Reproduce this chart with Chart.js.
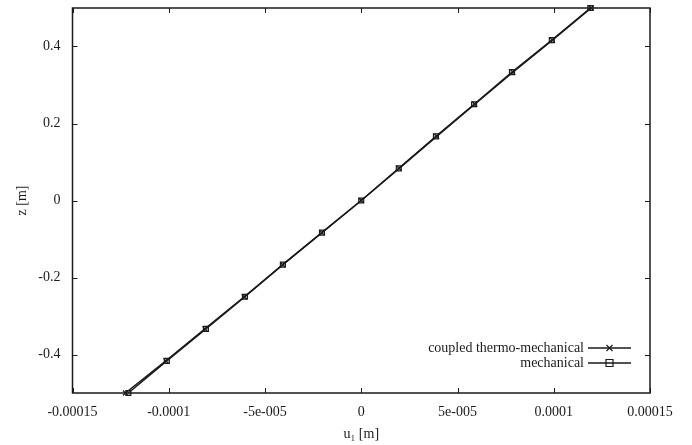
<!DOCTYPE html>
<html>
<head>
<meta charset="utf-8">
<script src="https://cdn.jsdelivr.net/npm/chart.js@4/dist/chart.umd.min.js"></script>
<style>
    html, body { margin: 0; padding: 0; background: #ffffff; }
    #wrap { width: 692px; height: 445px; }
</style>
</head>
<body>
<div id="wrap"><canvas id="profileChart" width="692" height="445"></canvas></div>
<script>
// z positions through the thickness [m]
const zValues = [-0.5, -0.41667, -0.33333, -0.25, -0.16667, -0.08333, 0, 0.08333, 0.16667, 0.25, 0.33333, 0.41667, 0.5];
// displacement u1 [m]
const coupledU = [-1.225e-4, -1.015e-4, -8.12e-5, -6.08e-5, -4.08e-5, -2.05e-5, 0, 1.97e-5, 3.92e-5, 5.9e-5, 7.88e-5, 9.93e-5, 1.195e-4];
const mechanicalU = [-1.21e-4, -1.01e-4, -8.07e-5, -6.04e-5, -4.07e-5, -2.04e-5, 0, 1.95e-5, 3.88e-5, 5.86e-5, 7.83e-5, 9.9e-5, 1.19e-4];

const xTicks = [-1.5e-4, -1e-4, -5e-5, 0, 5e-5, 1e-4, 1.5e-4];
const xTickLabels = ['-0.00015', '-0.0001', '-5e-005', '0', '5e-005', '0.0001', '0.00015'];
const yTicks = [-0.4, -0.2, 0, 0.2, 0.4];
const yTickLabels = ['-0.4', '-0.2', '0', '0.2', '0.4'];

const seriesNames = ['coupled thermo-mechanical', 'mechanical'];

const FONT = '"Liberation Serif", "DejaVu Serif", serif';
const INK = '#1a1a1a';

function toPoints(xs) {
    return xs.map((x, i) => ({ x: x, y: zValues[i] }));
}

// box, inward ticks on all four sides and the legend (gnuplot look)
const framePlugin = {
    id: 'frame',
    afterDraw(chart) {
        const ctx = chart.ctx;
        const a = chart.chartArea;
        const xs = chart.scales.x;
        const ys = chart.scales.y;
        const tick = 5;

        ctx.save();
        ctx.strokeStyle = INK;
        ctx.lineWidth = 1.5;
        ctx.strokeRect(a.left, a.top, a.right - a.left, a.bottom - a.top);

        ctx.lineWidth = 1;
        ctx.beginPath();
        xTicks.forEach(v => {
            const px = Math.round(xs.getPixelForValue(v)) + 0.5;
            ctx.moveTo(px, a.bottom); ctx.lineTo(px, a.bottom - tick);
            ctx.moveTo(px, a.top); ctx.lineTo(px, a.top + tick);
        });
        yTicks.forEach(v => {
            const py = Math.round(ys.getPixelForValue(v)) + 0.5;
            ctx.moveTo(a.left, py); ctx.lineTo(a.left + tick, py);
            ctx.moveTo(a.right, py); ctx.lineTo(a.right - tick, py);
        });
        ctx.stroke();

        // legend, bottom right inside the plot
        ctx.font = '14px ' + FONT;
        ctx.textAlign = 'right';
        ctx.textBaseline = 'middle';
        ctx.fillStyle = INK;
        const rows = [a.bottom - 45, a.bottom - 30];
        rows.forEach((y, i) => {
            const textEnd = a.right - 66;
            const x0 = a.right - 62;
            const x1 = a.right - 19;
            const mx = (x0 + x1) / 2;
            ctx.fillText(seriesNames[i], textEnd, y);
            ctx.lineWidth = 1.5;
            ctx.beginPath();
            ctx.moveTo(x0, y); ctx.lineTo(x1, y);
            ctx.stroke();
            ctx.lineWidth = 1.2;
            ctx.beginPath();
            if (i === 0) {
                ctx.moveTo(mx - 3, y - 3); ctx.lineTo(mx + 3, y + 3);
                ctx.moveTo(mx - 3, y + 3); ctx.lineTo(mx + 3, y - 3);
            } else {
                ctx.rect(mx - 3.5, y - 3.5, 7, 7);
            }
            ctx.stroke();
        });
        ctx.restore();
    }
};

const ctx = document.getElementById('profileChart').getContext('2d');

new Chart(ctx, {
    type: 'line',
    data: {
        datasets: [{
            label: seriesNames[0],
            data: toPoints(coupledU),
            borderColor: INK,
            borderWidth: 1.5,
            pointStyle: 'crossRot',
            pointRadius: 3.5,
            pointBorderWidth: 1.2,
            pointBorderColor: INK,
            backgroundColor: 'rgba(0,0,0,0)',
            fill: false,
            clip: false,
            tension: 0
        }, {
            label: seriesNames[1],
            data: toPoints(mechanicalU),
            borderColor: INK,
            borderWidth: 1.5,
            pointStyle: 'rect',
            pointRadius: 3.5,
            pointBorderWidth: 1.2,
            pointBorderColor: INK,
            pointBackgroundColor: 'rgba(120,120,120,0.35)',
            fill: false,
            clip: false,
            tension: 0
        }]
    },
    options: {
        responsive: false,
        animation: false,
        layout: {
            padding: { left: 0, right: 42, top: 8, bottom: 0 }
        },
        plugins: {
            legend: { display: false },
            tooltip: { enabled: false }
        },
        scales: {
            x: {
                type: 'linear',
                min: -1.5e-4,
                max: 1.5e-4,
                afterBuildTicks: scale => {
                    scale.ticks = xTicks.map(v => ({ value: v }));
                },
                afterFit: scale => {
                    scale.height = 52;
                    scale.paddingLeft = 0;
                    scale.paddingRight = 0;
                },
                grid: { display: false, drawTicks: false },
                border: { display: false },
                ticks: {
                    padding: 11,
                    color: INK,
                    font: { family: FONT, size: 14 },
                    maxRotation: 0,
                    autoSkip: false,
                    callback: (v, i) => xTickLabels[i]
                },
                title: {
                    display: true,
                    text: 'u\u2081 [m]',
                    color: INK,
                    font: { family: FONT, size: 14 },
                    padding: { top: 0, bottom: 2 }
                }
            },
            y: {
                type: 'linear',
                min: -0.5,
                max: 0.5,
                afterBuildTicks: scale => {
                    scale.ticks = yTicks.map(v => ({ value: v }));
                },
                afterFit: scale => {
                    scale.width = 72.5;
                    scale.paddingTop = 0;
                    scale.paddingBottom = 0;
                },
                grid: { display: false, drawTicks: false },
                border: { display: false },
                ticks: {
                    padding: 12,
                    color: INK,
                    font: { family: FONT, size: 14 },
                    autoSkip: false,
                    callback: (v, i) => yTickLabels[i]
                },
                title: {
                    display: true,
                    text: 'z [m]',
                    color: INK,
                    font: { family: FONT, size: 14 },
                    padding: { top: 14, bottom: 0 }
                }
            }
        }
    },
    plugins: [framePlugin]
});
</script>
</body>
</html>
